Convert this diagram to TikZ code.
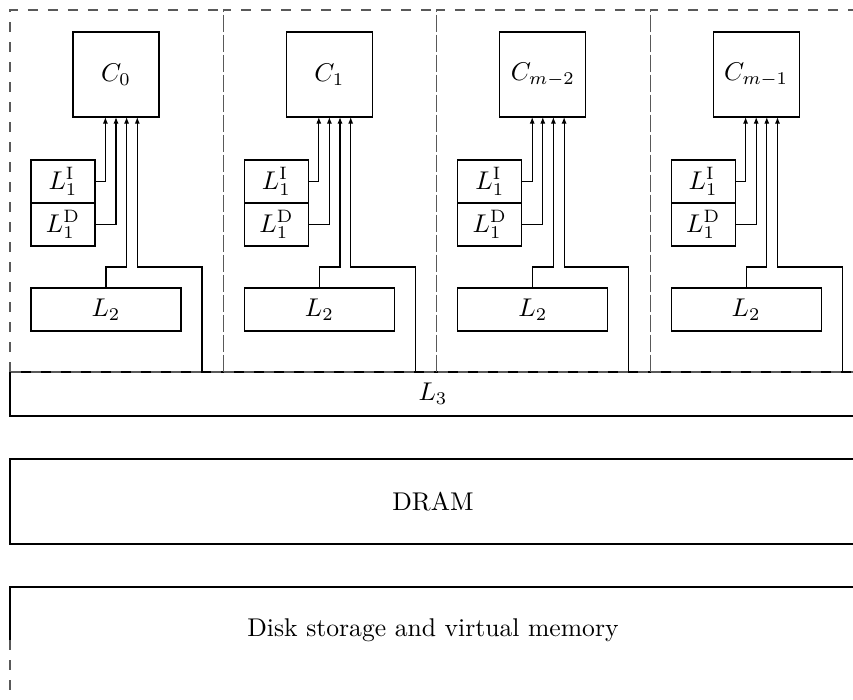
\documentclass[tikz,border=0pt]{standalone}
\usetikzlibrary{arrows.meta,calc}
\begin{document}
\begin{tikzpicture}[x=0.39pt,y=-0.39pt,
  box/.style={draw, line width=0.45pt, inner sep=0pt, outer sep=0pt, anchor=north west},
  colbox/.style={draw=black!65, dash pattern=on 3.9pt off 3.9pt, line width=0.5pt},
  wire/.style={line width=0.45pt},
  arr/.style={wire, -{Latex[length=2.6pt,width=2pt]}}]
\useasboundingbox (0,0) rectangle (853,700);
\clip (0,0) rectangle (853,700);
% shared levels
\node[box, minimum width=846*0.39pt, minimum height=44*0.39pt] (L3) at (10,372) {$L_3$};
\node[box, minimum width=846*0.39pt, minimum height=85*0.39pt] (DRAM) at (10,459) {DRAM};
\node[box, draw=none, minimum width=846*0.39pt, minimum height=86*0.39pt] (disk) at (10,587) {Disk storage and virtual memory};
\draw[wire] (disk.north east) -- (disk.north west) -- ++(0,53) coordinate (dsplit);
\draw[colbox] (dsplit) -- ++(0,70);
% cores
\foreach \i/\cx/\lab in {0/10/C_0, 1/223.4/C_1, 2/436.8/C_{m-2}, 3/650.2/C_{m-1}} {
  \draw[colbox] (\cx,372) -- (\cx,10) -- (\cx+213.4,10) -- (\cx+213.4,372) -- cycle;
  \node[box, minimum width=86*0.39pt, minimum height=85*0.39pt] (C\i) at (\cx+63,32) {$\lab$};
  \node[box, minimum width=64*0.39pt, minimum height=43*0.39pt] (LI\i) at (\cx+21,160) {$L_1^{\mathrm{I}}$};
  \node[box, minimum width=64*0.39pt, minimum height=43*0.39pt] (LD\i) at (\cx+21,203) {$L_1^{\mathrm{D}}$};
  \node[box, minimum width=150*0.39pt, minimum height=43*0.39pt] (LL\i) at (\cx+21,288) {$L_2$};
  \draw[arr] (LI\i.east) -| ($(C\i.south)+(-10.6,0)$);
  \draw[arr] (LD\i.east) -| ($(C\i.south)+(0,0)$);
  \draw[arr] ($(LL\i.north west)+(75,0)$) -- ++(0,-21) -| ($(C\i.south)+(10.6,0)$);
  \draw[arr] ($(L3.north west)+(\cx+182,0)$) -- ++(0,-105) -| ($(C\i.south)+(21.3,0)$);
}
\end{tikzpicture}
\end{document}
